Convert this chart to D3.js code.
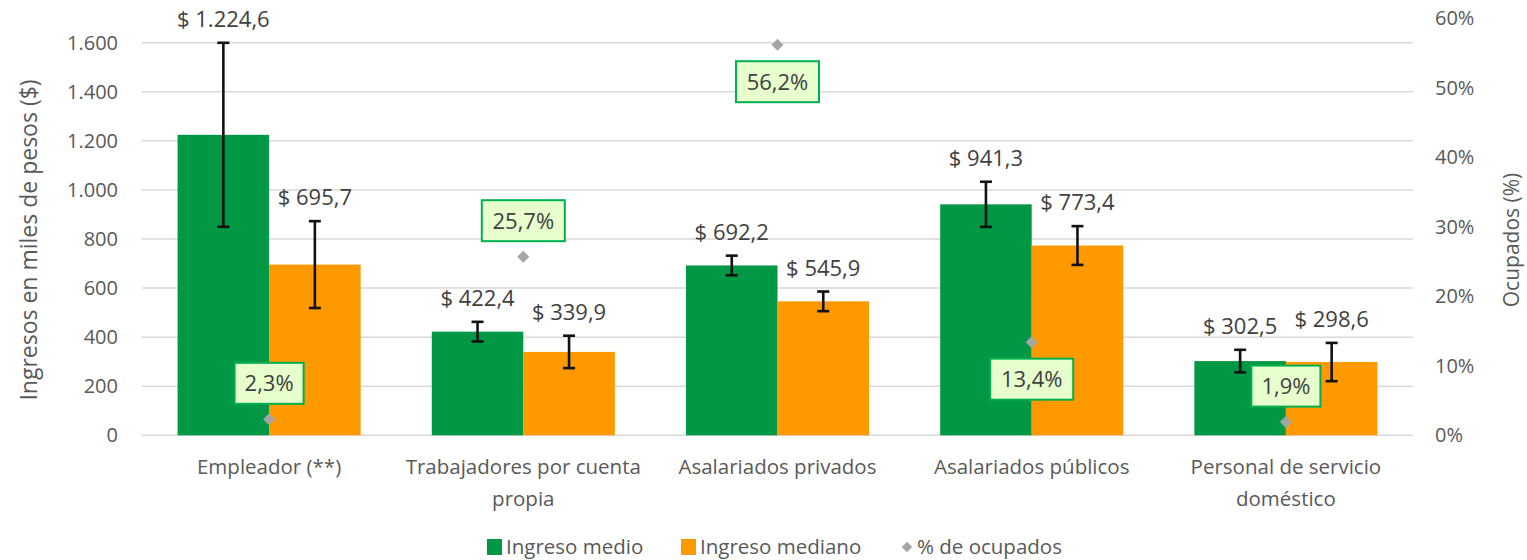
<!DOCTYPE html>
<html>
<head>
<meta charset="utf-8">
<script src="https://cdn.jsdelivr.net/npm/d3@7"></script>
<style>
  body { margin: 0; background: #fff; }
  text { font-family: "Open Sans", sans-serif; }
</style>
</head>
<body>
<div class="svg-wrap"></div>
<script>
const categories = ["Empleador (**)", "Trabajadores por cuenta propia", "Asalariados privados", "Asalariados públicos", "Personal de servicio doméstico"];
const categoryLines = [["Empleador (**)"], ["Trabajadores por cuenta", "propia"], ["Asalariados privados"], ["Asalariados públicos"], ["Personal de servicio", "doméstico"]];
const ingresoMedio = [1224.6, 422.4, 692.2, 941.3, 302.5];
const ingresoMediano = [695.7, 339.9, 545.9, 773.4, 298.6];
const errorMedio = [375, 40, 40, 92, 46];
const errorMediano = [177, 66, 40, 79, 78];
const ocupados = [2.3, 25.7, 56.2, 13.4, 1.9];
const leftTicks = [0, 200, 400, 600, 800, 1000, 1200, 1400, 1600];
const rightTicks = [0, 10, 20, 30, 40, 50, 60];
const seriesNames = ["Ingreso medio", "Ingreso mediano"];

// where the % label box sits relative to its point
const labelSide = ["above", "above", "below", "below", "above"];

const width = 1527;
const height = 560;
const plotLeft = 142, plotRight = 1413, plotTop = 42.7, plotBottom = 435.3;
const green = "#009845", orange = "#FF9900", grey = "#A5A5A5";

const fmt = d3.formatLocale({ decimal: ",", thousands: ".", grouping: [3], currency: ["$", ""] });
const fmtInt = fmt.format(",.0f");
const fmtMoney = fmt.format(",.1f");
const fmtPct = fmt.format(".1f");

let svg = d3.select(".svg-wrap").append("svg")
  .attr("width", width)
  .attr("height", height)
  .style("background-color", "white");

let y = d3.scaleLinear().domain([0, 1600]).range([plotBottom, plotTop]);
// the % axis runs a bit past the top of the plot (60% sits above the 1.600 line)
let y2 = d3.scaleLinear().domain([0, 60]).range([plotBottom, plotBottom - 6 * 69.5]);
let x0 = d3.scaleBand().domain(categories).range([plotLeft, plotRight]).padding(0);
let bw = x0.bandwidth();
let x1 = d3.scaleBand().domain(seriesNames).range([bw * 0.14, bw * 0.86]).padding(0);

// gridlines
svg.append("g")
  .selectAll("line")
  .data(leftTicks)
  .enter()
  .append("line")
  .attr("x1", plotLeft).attr("x2", plotRight)
  .attr("y1", d => y(d)).attr("y2", d => y(d))
  .attr("stroke", "#D9D9D9")
  .attr("stroke-width", 1.5);

// left axis
let yAxis = d3.axisLeft(y).tickValues(leftTicks).tickSize(0).tickPadding(24).tickFormat(d => fmtInt(d));
let gy = svg.append("g").attr("transform", `translate(${plotLeft},0)`).call(yAxis);
gy.select(".domain").remove();
gy.selectAll("text").attr("fill", "#595959").style("font-size", "20px");

// right axis
let y2Axis = d3.axisRight(y2).tickValues(rightTicks).tickSize(0).tickPadding(22).tickFormat(d => d + "%");
let gy2 = svg.append("g").attr("transform", `translate(${plotRight},0)`).call(y2Axis);
gy2.select(".domain").remove();
gy2.selectAll("text").attr("fill", "#595959").style("font-size", "20px");

// axis titles
svg.append("text")
  .attr("transform", "rotate(-90)")
  .attr("x", -240)
  .attr("y", 37)
  .attr("text-anchor", "middle")
  .attr("fill", "#595959")
  .style("font-size", "23px")
  .text("Ingresos en miles de pesos ($)");

svg.append("text")
  .attr("transform", "rotate(-90)")
  .attr("x", -240)
  .attr("y", 1519)
  .attr("text-anchor", "middle")
  .attr("fill", "#595959")
  .style("font-size", "21px")
  .text("Ocupados (%)");

// bars
let rows = categories.map((c, i) => ({
  cat: c,
  vals: [
    { s: seriesNames[0], v: ingresoMedio[i], e: errorMedio[i], color: green },
    { s: seriesNames[1], v: ingresoMediano[i], e: errorMediano[i], color: orange }
  ]
}));

let groups = svg.append("g")
  .selectAll("g")
  .data(rows)
  .enter()
  .append("g")
  .attr("transform", d => `translate(${x0(d.cat)},0)`);

groups.selectAll("rect")
  .data(d => d.vals)
  .enter()
  .append("rect")
  .attr("x", d => x1(d.s))
  .attr("y", d => y(d.v))
  .attr("width", x1.bandwidth())
  .attr("height", d => plotBottom - y(d.v))
  .attr("fill", d => d.color);

// error bars
let eb = groups.selectAll("g.err")
  .data(d => d.vals)
  .enter()
  .append("g")
  .attr("class", "err")
  .attr("transform", d => `translate(${x1(d.s) + x1.bandwidth() / 2},0)`)
  .attr("stroke", "#111")
  .attr("stroke-width", 2.6);

eb.append("line").attr("y1", d => y(d.v + d.e)).attr("y2", d => y(d.v - d.e));
eb.append("line").attr("x1", -6).attr("x2", 6).attr("y1", d => y(d.v + d.e)).attr("y2", d => y(d.v + d.e));
eb.append("line").attr("x1", -6).attr("x2", 6).attr("y1", d => y(d.v - d.e)).attr("y2", d => y(d.v - d.e));

// value labels
groups.selectAll("text.val")
  .data(d => d.vals)
  .enter()
  .append("text")
  .attr("class", "val")
  .attr("x", d => x1(d.s) + x1.bandwidth() / 2)
  .attr("y", d => y(d.v + d.e) - 16)
  .attr("text-anchor", "middle")
  .attr("fill", "#404040")
  .style("font-size", "22px")
  .text(d => "$ " + fmtMoney(d.v));

// % ocupados points
let pts = svg.append("g")
  .selectAll("g")
  .data(ocupados)
  .enter()
  .append("g")
  .attr("transform", (d, i) => `translate(${x0(categories[i]) + bw / 2},${y2(d)})`);

pts.append("path")
  .attr("d", d3.symbol().type(d3.symbolSquare).size(72))
  .attr("transform", "rotate(45)")
  .attr("fill", grey);

let lbl = pts.append("g")
  .attr("transform", (d, i) => `translate(0,${labelSide[i] === "above" ? -36 : 37})`);

lbl.append("rect")
  .attr("x", d => d >= 10 ? -41.5 : -34.5)
  .attr("y", -20.5)
  .attr("width", d => d >= 10 ? 83 : 69)
  .attr("height", 41)
  .attr("fill", "#E6FFCC")
  .attr("stroke", "#00B050")
  .attr("stroke-width", 2);

lbl.append("text")
  .attr("text-anchor", "middle")
  .attr("dy", "0.36em")
  .attr("fill", "#404040")
  .style("font-size", "22px")
  .text(d => fmtPct(d) + "%");

// category labels
let catG = svg.append("g")
  .selectAll("text")
  .data(categoryLines)
  .enter()
  .append("text")
  .attr("x", (d, i) => x0(categories[i]) + bw / 2)
  .attr("y", 474)
  .attr("text-anchor", "middle")
  .attr("fill", "#595959")
  .style("font-size", "20.5px");

catG.selectAll("tspan")
  .data(d => d)
  .enter()
  .append("tspan")
  .attr("x", function () { return this.parentNode.getAttribute("x"); })
  .attr("dy", (d, i) => i === 0 ? 0 : 32)
  .text(d => d);

// legend
let legendItems = [
  { name: "Ingreso medio", kind: "rect", color: green, x: 487 },
  { name: "Ingreso mediano", kind: "rect", color: orange, x: 681 },
  { name: "% de ocupados", kind: "diamond", color: grey, x: 902 }
];
let lg = svg.append("g")
  .selectAll("g")
  .data(legendItems)
  .enter()
  .append("g")
  .attr("transform", d => `translate(${d.x},547)`);

lg.filter(d => d.kind === "rect").append("rect")
  .attr("x", 0).attr("y", -8).attr("width", 15).attr("height", 16)
  .attr("fill", d => d.color);
lg.filter(d => d.kind === "diamond").append("path")
  .attr("d", d3.symbol().type(d3.symbolSquare).size(55))
  .attr("transform", "translate(5,0) rotate(45)")
  .attr("fill", d => d.color);
lg.append("text")
  .attr("x", d => d.kind === "rect" ? 19 : 15)
  .attr("dy", "0.36em")
  .attr("fill", "#595959")
  .style("font-size", "20.5px")
  .text(d => d.name);
</script>
</body>
</html>
